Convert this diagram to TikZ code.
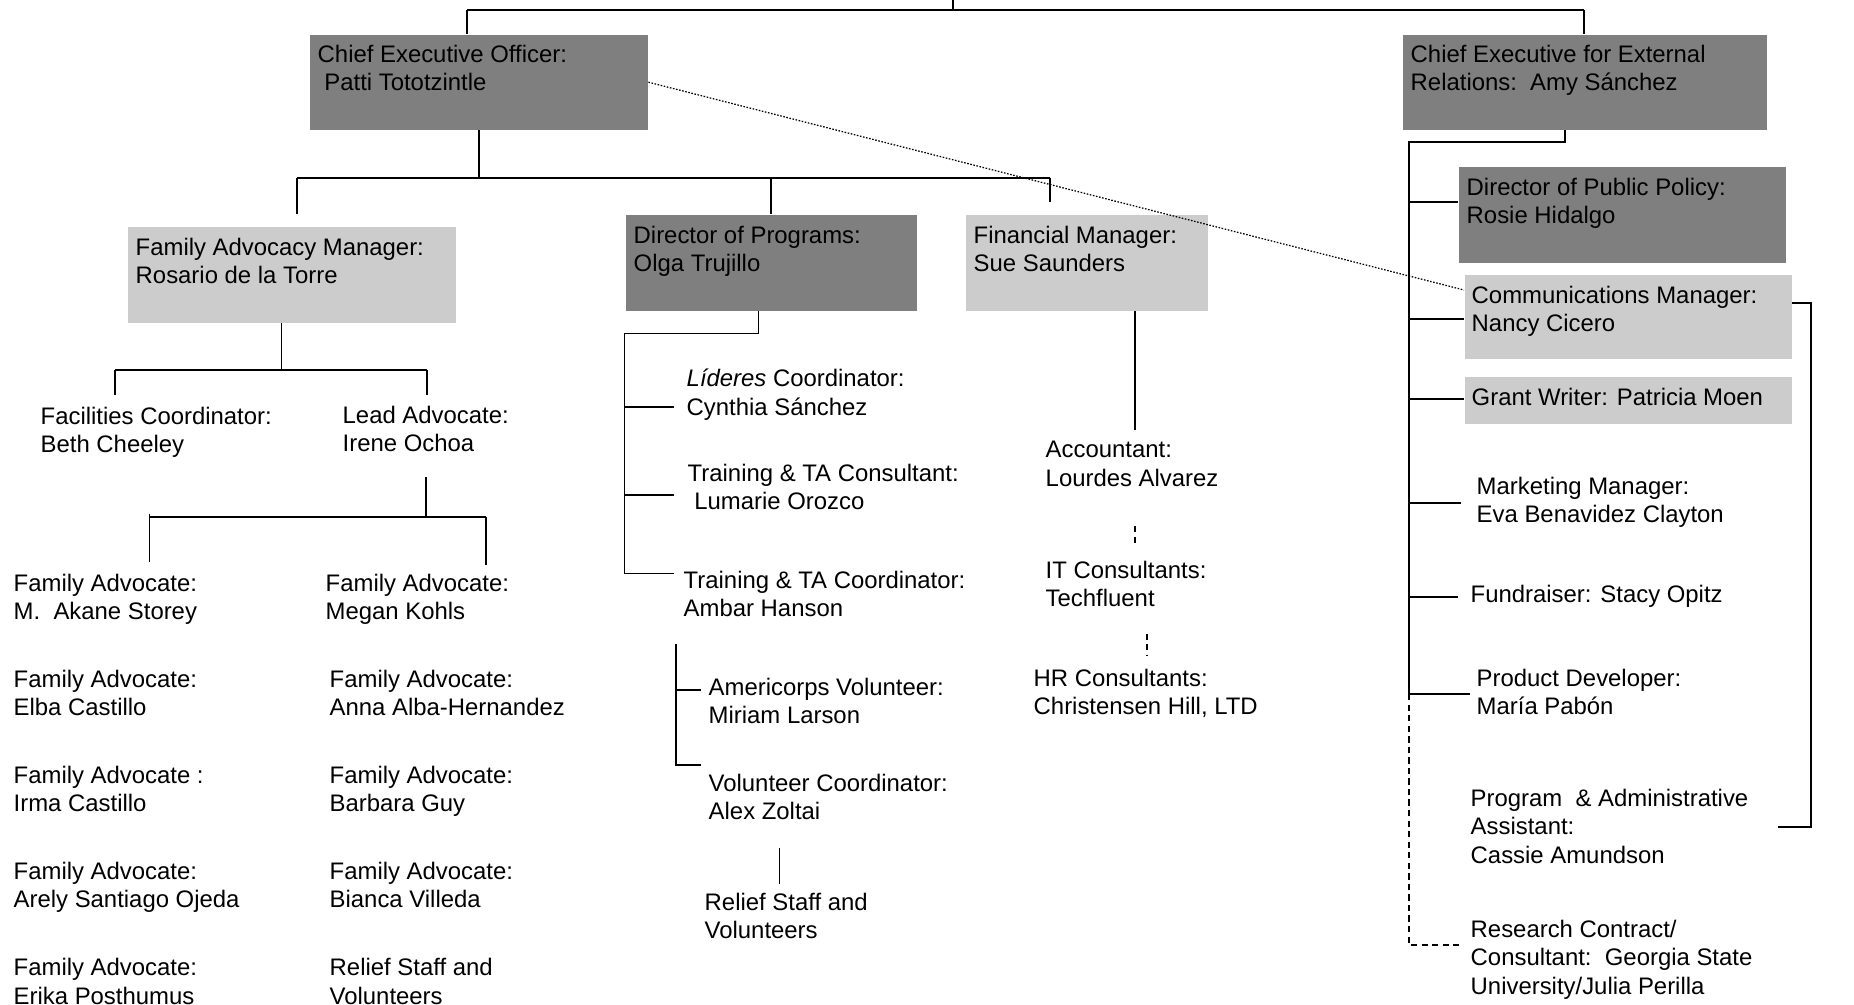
\documentclass[tikz,border=0pt]{standalone}
\usepackage{fontspec}
\setmainfont{Liberation Sans}
\definecolor{boxdark}{HTML}{7F7F7F}
\definecolor{boxlight}{HTML}{CCCCCC}
\tikzset{
  dbox/.style={rectangle,fill=boxdark,anchor=north west,inner sep=0},
  lbox/.style={rectangle,fill=boxlight,anchor=north west,inner sep=0},
  txt/.style={anchor=north west,inner sep=0,yshift=0.025cm,align=left,font=\fontsize{6.8}{8.1}\selectfont},
  conn/.style={line width=0.55pt},
  dashln/.style={line width=0.55pt,dash pattern=on 1.8pt off 1.2pt},
  dotln/.style={line width=0.35pt,dash pattern=on 0.45pt off 0.45pt}
}
\begin{document}
\begin{tikzpicture}
\useasboundingbox (0,0) rectangle (18.54,-10.05);
% boxes
\node[dbox,minimum width=3.38cm,minimum height=0.95cm] (ceo) at (3.09,-0.34) {};
\node[dbox,minimum width=3.64cm,minimum height=0.95cm] (cee) at (14.02,-0.34) {};
\node[lbox,minimum width=3.28cm,minimum height=0.96cm] (fam) at (1.27,-2.26) {};
\node[dbox,minimum width=2.91cm,minimum height=0.96cm] (dop) at (6.25,-2.14) {};
\node[lbox,minimum width=2.42cm,minimum height=0.96cm] (fin) at (9.65,-2.14) {};
\node[dbox,minimum width=3.27cm,minimum height=0.96cm] (dpp) at (14.58,-1.66) {};
\node[lbox,minimum width=3.27cm,minimum height=0.84cm] (comm) at (14.64,-2.74) {};
\node[lbox,minimum width=3.27cm,minimum height=0.47cm] (grant) at (14.64,-3.76) {};
% box texts
\node[txt] (ceo-t) at (3.17,-0.47) {Chief Executive Officer:\\\hspace*{1.9pt}Patti Tototzintle};
\node[txt] (cee-t) at (14.10,-0.47) {Chief Executive for External\\Relations:\ \ Amy Sánchez};
\node[txt] (fam-t) at (1.35,-2.40) {Family Advocacy Manager:\\Rosario de la Torre};
\node[txt] (dop-t) at (6.33,-2.28) {Director of Programs:\\Olga Trujillo};
\node[txt] (fin-t) at (9.73,-2.28) {Financial Manager:\\Sue Saunders};
\node[txt] (dpp-t) at (14.66,-1.80) {Director of Public Policy:\\Rosie Hidalgo};
\node[txt] (comm-t) at (14.71,-2.88) {Communications Manager:\\Nancy Cicero};
\node[txt] (grant-t) at (14.71,-3.90) {Grant Writer: Patricia Moen};
% family advocacy
\node[txt] (fac) at (0.40,-4.09) {Facilities Coordinator:\\Beth Cheeley};
\node[txt] (lead) at (3.42,-4.08) {Lead Advocate:\\Irene Ochoa};
\node[txt] (fa1) at (0.13,-5.76) {Family Advocate:\\M.\ \ Akane Storey};
\node[txt] (fa2) at (0.13,-6.72) {Family Advocate:\\Elba Castillo};
\node[txt] (fa3) at (0.13,-7.68) {Family Advocate :\\Irma Castillo};
\node[txt] (fa4) at (0.13,-8.64) {Family Advocate:\\Arely Santiago Ojeda};
\node[txt] (fa5) at (0.13,-9.60) {Family Advocate:\\Erika Posthumus};
\node[txt] (fb1) at (3.25,-5.76) {Family Advocate:\\Megan Kohls};
\node[txt] (fb2) at (3.29,-6.72) {Family Advocate:\\Anna Alba-Hernandez};
\node[txt] (fb3) at (3.29,-7.68) {Family Advocate:\\Barbara Guy};
\node[txt] (fb4) at (3.29,-8.64) {Family Advocate:\\Bianca Villeda};
\node[txt] (fb5) at (3.29,-9.60) {Relief Staff and\\Volunteers};
% programs
\node[txt] (lid) at (6.86,-3.71) {\textit{Líderes} Coordinator:\\Cynthia Sánchez};
\node[txt] (tcons) at (6.87,-4.66) {Training \& TA Consultant:\\\hspace*{1.9pt}Lumarie Orozco};
\node[txt] (tcoord) at (6.83,-5.73) {Training \& TA Coordinator:\\Ambar Hanson};
\node[txt] (amc) at (7.08,-6.80) {Americorps Volunteer:\\Miriam Larson};
\node[txt] (volc) at (7.08,-7.76) {Volunteer Coordinator:\\Alex Zoltai};
\node[txt] (relief) at (7.04,-8.95) {Relief Staff and\\Volunteers};
% finance
\node[txt] (acct) at (10.45,-4.43) {Accountant:\\Lourdes Alvarez};
\node[txt] (itc) at (10.45,-5.63) {IT Consultants:\\Techfluent};
\node[txt] (hrc) at (10.33,-6.71) {HR Consultants:\\Christensen Hill, LTD};
% external relations
\node[txt] (mkt) at (14.76,-4.79) {Marketing Manager:\\Eva Benavidez Clayton};
\node[txt] (fund) at (14.70,-5.87) {Fundraiser: Stacy Opitz};
\node[txt] (prod) at (14.76,-6.71) {Product Developer:\\María Pabón};
\node[txt] (padm) at (14.70,-7.91) {Program\ \ \& Administrative\\Assistant:\\Cassie Amundson};
\node[txt] (res) at (14.70,-9.22) {Research Contract/\\Consultant:\ \ Georgia State\\University/Julia Perilla};
% joints
\coordinate (top) at (9.53,0);
\coordinate (topl) at (4.67,-0.10);
\coordinate (topr) at (15.84,-0.10);
\coordinate (busl) at (2.97,-1.78);
\coordinate (busr) at (10.50,-1.78);
\coordinate (fam-in) at (2.97,-2.14);
\coordinate (fin-in) at (10.50,-2.02);
\coordinate (famj) at (2.815,-3.70);
\coordinate (fac-in) at (1.15,-3.945);
\coordinate (lead-in) at (4.27,-3.945);
\coordinate (leadj) at (4.26,-4.77);
\coordinate (advl) at (1.495,-5.14);
\coordinate (advr) at (4.856,-5.17);
\coordinate (fa-in) at (1.495,-5.616);
\coordinate (fb-in) at (4.856,-5.65);
\coordinate (dopj) at (7.585,-3.335);
\coordinate (dopl) at (6.245,-3.335);
\coordinate (dop1) at (6.245,-4.066);
\coordinate (dop2) at (6.245,-4.947);
\coordinate (dop3) at (6.245,-5.735);
\coordinate (vol1) at (6.76,-6.44);
\coordinate (vol2) at (6.76,-6.90);
\coordinate (vol3) at (6.76,-7.65);
\coordinate (rel1) at (7.795,-8.477);
\coordinate (rel2) at (7.795,-8.836);
\coordinate (finj) at (11.35,-4.30);
\coordinate (ceej) at (15.65,-1.42);
\coordinate (spn) at (14.09,-1.42);
\coordinate (spn1) at (14.09,-2.02);
\coordinate (spn2) at (14.09,-3.19);
\coordinate (spn3) at (14.09,-3.99);
\coordinate (spn4) at (14.09,-5.03);
\coordinate (spn5) at (14.09,-5.97);
\coordinate (spn6) at (14.09,-6.94);
\coordinate (spn7) at (14.09,-9.45);
\coordinate (rbr1) at (18.11,-3.03);
\coordinate (rbr2) at (18.11,-8.27);
\coordinate (comm-dot) at (14.64,-2.90);
% connectors
\draw[conn] (top)--(top |- topl) (topl)--(topr) (topl)--(topl |- ceo.north) (topr)--(topr |- cee.north);
\draw[conn] (ceo.south)--(ceo.south |- busl) (busl)--(busr) (busl)--(fam-in) (busr)--(fin-in) (dop.north)--(dop.north |- busl);
\draw[conn] (famj |- fam.south)--(famj) (fac-in |- famj)--(lead-in |- famj) (fac-in |- famj)--(fac-in) (lead-in |- famj)--(lead-in);
\draw[conn] (leadj)--(leadj |- advr) (advl |- advr)--(advr) (advl)--(fa-in) (advr)--(fb-in);
\draw[conn] (dopj |- dop.south)--(dopj)--(dopl)--(dop3) (dop1)--++(0.492,0) (dop2)--++(0.492,0) (dop3)--++(0.492,0);
\draw[conn] (vol1)--(vol3)--++(0.25,0) (vol2)--++(0.25,0) (rel1)--(rel2);
\draw[conn] (finj |- fin.south)--(finj);
\draw[dashln] (11.35,-5.26)--(11.35,-5.46) (11.47,-6.336)--(11.47,-6.55);
\draw[conn] (ceej |- cee.south)--(ceej)--(spn)--(spn6);
\draw[conn] (spn1)--(spn1 -| dpp.west) (spn2)--(spn2 -| comm.west) (spn3)--(spn3 -| grant.west) (spn4)--++(0.52,0) (spn5)--++(0.49,0) (spn6)--++(0.61,0);
\draw[dashln] (spn6)--(spn7)--++(0.495,0);
\draw[conn] (rbr1 -| comm.east)--(rbr1)--(rbr2)--++(-0.33,0);
\draw[dotln] (ceo.east)--(comm-dot);
\end{tikzpicture}
\end{document}
